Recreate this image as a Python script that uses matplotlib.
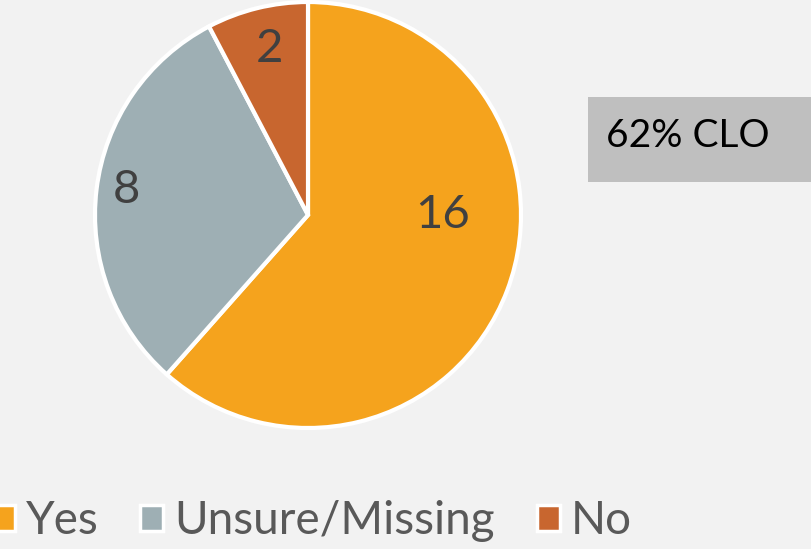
import matplotlib
matplotlib.use("Agg")
import matplotlib.pyplot as plt
from matplotlib.patches import Patch

categories = ["Yes", "Unsure/Missing", "No"]
values = [16, 8, 2]
colors = ["#F5A31D", "#9EAFB4", "#C8662F"]
label_pos = [(0.632, 0.0), (-0.854, 0.118), (-0.18, 0.78)]
note = "62% CLO"

plt.rcParams['font.family'] = ['Lato', 'DejaVu Sans']
W, H = 812, 549
fig = plt.figure(figsize=(W/100, H/100), dpi=100, facecolor="#F2F2F2")
cx, cy, r = 308, 215, 213
ax = fig.add_axes([(cx - r)/W, (H - cy - r)/H, 2*r/W, 2*r/H])
ax.set_facecolor("#F2F2F2")
wedges, _ = ax.pie(values, colors=colors, startangle=90, counterclock=False,
                   radius=1.0, wedgeprops=dict(edgecolor="white", linewidth=3))
for (x, y), v in zip(label_pos, values):
    ax.text(x, y, str(v), ha="center", va="center", fontsize=34, color="#404040")
ax.set_xlim(-1.0, 1.0)
ax.set_ylim(-1.0, 1.0)
ax.set_aspect("equal")
ax.axis("off")

# note box
fig.patches.append(plt.Rectangle((588/W, 1 - 182/H), (W - 588)/W, 85/H,
                                 transform=fig.transFigure, facecolor="#BFBFBF",
                                 edgecolor="none"))
fig.text(606/W, 1 - 136/H, note, ha="left", va="center", fontsize=28, color="black")

handles = [Patch(facecolor=c, edgecolor="white", linewidth=2.5) for c in colors]
leg = fig.legend(handles, categories, loc="center", bbox_to_anchor=(312/W, 1 - 521/H),
                 ncol=3, frameon=False, fontsize=33, handlelength=0.5, handleheight=0.5,
                 handletextpad=0.25, columnspacing=0.9, borderaxespad=0)
for t in leg.get_texts():
    t.set_color("#595959")

fig.savefig("out.png", dpi=100, facecolor=fig.get_facecolor())
